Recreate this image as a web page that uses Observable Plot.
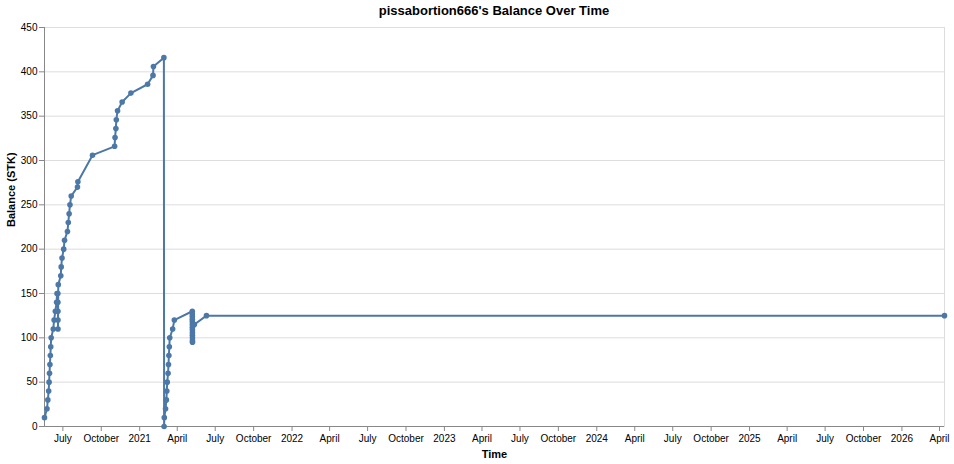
<!DOCTYPE html>
<html><head><meta charset="utf-8">
<script src="https://cdn.jsdelivr.net/npm/d3@7"></script>
<script src="https://cdn.jsdelivr.net/npm/@observablehq/plot@0.6"></script>
<style>
body{margin:0;background:#fff;font-family:"Liberation Sans",Arial,sans-serif;}
#title{height:20px;line-height:22px;font-size:13px;font-weight:bold;text-align:center;padding-left:44px;padding-right:10px;box-sizing:border-box;width:954px;color:#000;}
</style></head><body>
<div id="title">pissabortion666's Balance Over Time</div>
<div id="chart"></div>
<script>
const dates = [
  "2020-05-18","2020-05-24","2020-05-26","2020-05-28","2020-05-29","2020-05-30","2020-05-31","2020-06-01","2020-06-02","2020-06-03",
  "2020-06-08","2020-06-10","2020-06-13","2020-06-16","2020-06-17",
  "2020-06-19T00:00Z","2020-06-19T02:00Z","2020-06-19T04:00Z","2020-06-19T06:00Z","2020-06-19T08:00Z",
  "2020-06-20","2020-06-26","2020-06-27","2020-06-29","2020-07-03","2020-07-05","2020-07-12","2020-07-14","2020-07-16","2020-07-18",
  "2020-07-21","2020-08-05","2020-08-06","2020-09-10","2020-11-02","2020-11-03","2020-11-05","2020-11-06","2020-11-09","2020-11-20",
  "2020-12-11","2021-01-20","2021-02-02","2021-02-03","2021-02-28T00:00Z","2021-02-28T12:00Z",
  "2021-03-01","2021-03-04","2021-03-06","2021-03-07","2021-03-08","2021-03-10","2021-03-11","2021-03-12","2021-03-13","2021-03-14",
  "2021-03-21","2021-03-25",
  "2021-05-07T00:00Z","2021-05-07T01:00Z","2021-05-07T02:00Z","2021-05-07T03:00Z","2021-05-07T04:00Z","2021-05-07T05:00Z","2021-05-07T06:00Z",
  "2021-05-07T07:00Z","2021-05-07T08:00Z","2021-05-07T09:00Z","2021-05-07T10:00Z","2021-05-07T11:00Z","2021-05-07T12:00Z",
  "2021-05-12","2021-06-10","2026-04-13"
];
const balances = [
  10,20,30,40,50,60,70,80,90,100,
  110,120,130,140,150,
  150,140,130,120,110,
  160,170,180,190,200,210,220,230,240,250,
  260,270,276,306,316,326,336,346,356,366,
  376,386,396,406,416,0,
  10,20,30,40,50,60,70,80,90,100,
  110,120,
  130,127,124,121,118,115,112,
  109,106,103,100,97,95,
  115,125,125
];
const yTicks = [0,50,100,150,200,250,300,350,400,450];
const xTitle = "Time";
const yTitle = "Balance (STK)";

const data = dates.map((d, i) => ({date: new Date(d), balance: balances[i]}));
const x0 = data[0].date, x1 = data[data.length - 1].date;
const monthTicks = d3.utcMonth.every(3).range(x0, x1);
const fmt = d => d.getUTCMonth() === 0 ? d3.utcFormat("%Y")(d) : d3.utcFormat("%B")(d);

const chart = Plot.plot({
  width: 954, height: 444,
  marginTop: 7, marginLeft: 44, marginRight: 10, marginBottom: 38,
  style: {fontFamily: "'Liberation Sans', Arial, sans-serif", fontSize: "10px", color: "#000", background: "#fff", overflow: "visible"},
  x: {type: "utc", domain: [x0, x1]},
  y: {domain: [0, 450]},
  marks: [
    Plot.frame({stroke: "#ddd"}),
    Plot.gridY(yTicks, {stroke: "#ddd", strokeOpacity: 1}),
    Plot.axisY(yTicks, {tickSize: 5, tickPadding: 2, stroke: "#888", label: null, fontSize: 10}),
    Plot.axisX(monthTicks, {tickSize: 5, tickPadding: 3, tickFormat: fmt, stroke: "#888", label: null, fontSize: 10}),
    Plot.ruleY([0], {stroke: "#888"}),
    Plot.ruleX([x0], {stroke: "#888"}),
    Plot.line(data, {x: "date", y: "balance", stroke: "#4c78a8", strokeWidth: 2}),
    Plot.dot(data, {x: "date", y: "balance", fill: "#4c78a8", r: 2.8}),
    Plot.text([xTitle], {frameAnchor: "bottom", dy: 31, fontWeight: "bold", fontSize: 11}),
    Plot.text([yTitle], {frameAnchor: "left", dx: -33, rotate: -90, fontWeight: "bold", fontSize: 11})
  ]
});
document.getElementById("chart").appendChild(chart);
</script>
</body></html>
